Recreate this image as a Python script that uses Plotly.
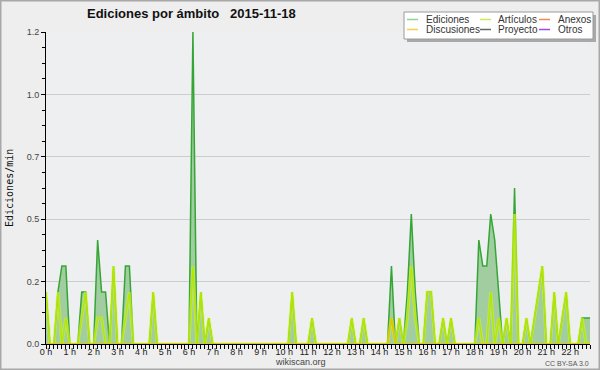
import plotly.graph_objects as go

# ---------------- data (edits/min, 10-minute bins starting 00:00) ----------------
hour_ticks = [0, 1, 2, 3, 4, 5, 6, 7, 8, 9, 10, 11, 12, 13, 14, 15, 16, 17, 18, 19, 20, 21, 22]
hour_labels = ["0 h", "1 h", "2 h", "3 h", "4 h", "5 h", "6 h", "7 h", "8 h", "9 h", "10 h", "11 h",
               "12 h", "13 h", "14 h", "15 h", "16 h", "17 h", "18 h", "19 h", "20 h", "21 h", "22 h"]

ediciones = [
    0.2, 0, 0, 0.2, 0.3, 0.3,      # 0 h
    0, 0, 0, 0.2, 0.2, 0,          # 1 h
    0, 0.4, 0.2, 0.2, 0, 0.3,      # 2 h
    0, 0, 0.3, 0.3, 0, 0,          # 3 h
    0, 0, 0, 0.2, 0, 0,            # 4 h
    0, 0, 0, 0, 0, 0,              # 5 h
    0, 1.2, 0, 0.2, 0, 0.1,        # 6 h
    0, 0, 0, 0, 0, 0,              # 7 h
    0, 0, 0, 0, 0, 0,              # 8 h
    0, 0, 0, 0, 0, 0,              # 9 h
    0, 0, 0.2, 0, 0, 0,            # 10 h
    0, 0.1, 0, 0, 0, 0,            # 11 h
    0, 0, 0, 0, 0, 0.1,            # 12 h
    0, 0, 0.1, 0, 0, 0,            # 13 h
    0, 0, 0, 0.3, 0, 0.1,          # 14 h
    0, 0.2, 0.5, 0.2, 0, 0,        # 15 h
    0.2, 0.2, 0, 0, 0.1, 0,        # 16 h
    0.1, 0, 0, 0, 0, 0,            # 17 h
    0, 0.4, 0.3, 0.3, 0.5, 0.4,    # 18 h
    0.2, 0, 0.1, 0, 0.6, 0,        # 19 h
    0, 0.1, 0, 0.1, 0.2, 0.3,      # 20 h
    0, 0, 0.2, 0, 0.1, 0.2,        # 21 h
    0, 0, 0, 0.1, 0.1, 0.1,        # 22 h
]

articulos = [
    0.2, 0, 0, 0.2, 0, 0.1,
    0, 0, 0, 0.1, 0.2, 0,
    0, 0.1, 0.1, 0, 0, 0.3,
    0, 0, 0.1, 0.2, 0, 0,
    0, 0, 0, 0.2, 0, 0,
    0, 0, 0, 0, 0, 0,
    0, 0.3, 0, 0.2, 0, 0.1,
    0, 0, 0, 0, 0, 0,
    0, 0, 0, 0, 0, 0,
    0, 0, 0, 0, 0, 0,
    0, 0, 0.2, 0, 0, 0,
    0, 0.1, 0, 0, 0, 0,
    0, 0, 0, 0, 0, 0.1,
    0, 0, 0.1, 0, 0, 0,
    0, 0, 0, 0.1, 0, 0.1,
    0, 0.1, 0.3, 0.1, 0, 0,
    0.2, 0.2, 0, 0, 0.1, 0,
    0.1, 0, 0, 0, 0, 0,
    0, 0.1, 0, 0, 0.2, 0,
    0.1, 0, 0.1, 0, 0.5, 0,
    0, 0.1, 0, 0.1, 0.2, 0.3,
    0, 0, 0.2, 0, 0.1, 0.2,
    0, 0, 0, 0.1, 0, 0,
]

discusiones = [0] * 87 + [0.1] + [0] * 50

times = [i / 6 for i in range(len(ediciones))]

legend_names = ["Ediciones", "Artículos", "Anexos", "Discusiones", "Proyecto", "Otros"]
legend_colors = ["#8ed68e", "#c9ec4f", "#f08a5a", "#f4cf4a", "#666666", "#9a4ce8"]

y_ticks = [0, 0.24, 0.48, 0.72, 0.96, 1.2]

# ---------------- geometry helpers (pixel -> paper) ----------------
W, H = 600, 370
L, R, T, B = 46, 10, 32, 26
PW, PH = W - L - R, H - T - B


def px(x):
    return (x - L) / PW


def py(y):
    return (H - B - y) / PH


FONT = "Liberation Sans, Arial, sans-serif"

fig = go.Figure()
fig.add_trace(go.Scatter(x=times, y=ediciones, mode="lines", name="Ediciones",
                         line=dict(color="#35a635", width=1.5), fill="tozeroy",
                         fillcolor="#a1cda1", showlegend=False))
fig.add_trace(go.Scatter(x=times, y=articulos, mode="lines", name="Artículos",
                         line=dict(color="rgba(210,248,50,0.55)", width=3.2),
                         showlegend=False, hoverinfo="skip"))
fig.add_trace(go.Scatter(x=times, y=articulos, mode="lines", name="Artículos",
                         line=dict(color="#b4e600", width=1.3), showlegend=False))
fig.add_trace(go.Scatter(x=times, y=discusiones, mode="lines", name="Discusiones",
                         line=dict(color="#e8c400", width=1.6), showlegend=False))

shapes = []
annotations = []

# outer frame
shapes.append(dict(type="rect", xref="paper", yref="paper", x0=px(0.5), x1=px(W - 0.5),
                   y0=py(0.5), y1=py(H - 0.5), line=dict(color="#a8a8a8", width=2),
                   fillcolor="rgba(0,0,0,0)", layer="above"))

# legend box with shadow
shapes.append(dict(type="rect", xref="paper", yref="paper", x0=px(407), x1=px(596),
                   y0=py(15), y1=py(42), line=dict(width=0), fillcolor="#a9a9a9", layer="above"))
shapes.append(dict(type="rect", xref="paper", yref="paper", x0=px(404), x1=px(593),
                   y0=py(12), y1=py(39), line=dict(color="#9a9a9a", width=1),
                   fillcolor="#ffffff", layer="above"))

col_line_x = [407, 480, 539]
col_text_x = [424, 496, 556]
row_y = [19.5, 29.5]
for k, (name, color) in enumerate(zip(legend_names, legend_colors)):
    r, c = divmod(k, 3)
    shapes.append(dict(type="line", xref="paper", yref="paper",
                       x0=px(col_line_x[c]), x1=px(col_line_x[c] + 11),
                       y0=py(row_y[r]), y1=py(row_y[r]),
                       line=dict(color=color, width=1.5), layer="above"))
    annotations.append(dict(text=name, xref="paper", yref="paper", x=px(col_text_x[c]),
                            y=py(row_y[r]), xanchor="left", yanchor="middle", showarrow=False,
                            font=dict(family=FONT, size=10, color="#333333")))

# title
annotations.append(dict(text="<b>Ediciones por ámbito\u00a0\u00a0\u00a02015-11-18</b>",
                        xref="paper", yref="paper", x=px(85), y=py(14), xanchor="left",
                        yanchor="middle", showarrow=False,
                        font=dict(family=FONT, size=13, color="#111111")))
# y axis title
annotations.append(dict(text="Ediciones/min", xref="paper", yref="paper", x=px(9), y=py(188),
                        xanchor="center", yanchor="middle", textangle=-90, showarrow=False,
                        font=dict(family="DejaVu Sans Mono, monospace", size=10, color="#111111")))
# x axis caption and licence
annotations.append(dict(text="wikiscan.org", xref="paper", yref="paper", x=px(300), y=py(362),
                        xanchor="center", yanchor="middle", showarrow=False, borderpad=0,
                        font=dict(family=FONT, size=9, color="#444444")))
annotations.append(dict(text="CC BY-SA 3.0", xref="paper", yref="paper", x=px(590), y=py(363),
                        xanchor="right", yanchor="middle", showarrow=False, borderpad=0,
                        font=dict(family=FONT, size=7, color="#555555")))

fig.update_layout(
    width=W, height=H,
    margin=dict(l=L, r=R, t=T, b=B, pad=0),
    paper_bgcolor="#eeeeee",
    plot_bgcolor="#eeeff1",
    showlegend=False,
    shapes=shapes,
    annotations=annotations,
    xaxis=dict(range=[0, times[-1]], tickvals=hour_ticks, ticktext=hour_labels,
               showgrid=False, zeroline=False, showline=True, linecolor="#000000", linewidth=1,
               ticks="outside", ticklen=4, tickcolor="#000000", tickwidth=1,
               ticklabelstandoff=-5,
               tickfont=dict(family=FONT, size=9, color="#222222"),
               minor=dict(dtick=1 / 6, tick0=0, ticks="outside", ticklen=4,
                          tickcolor="#000000", tickwidth=1, showgrid=False),
               fixedrange=True),
    yaxis=dict(range=[0, 1.2], tickvals=y_ticks, tickformat=".1f",
               showgrid=True, gridcolor="#cdcdcd", gridwidth=1, zeroline=False,
               showline=True, linecolor="#000000", linewidth=1,
               ticks="outside", ticklen=4, tickcolor="#000000", tickwidth=1,
               tickfont=dict(family=FONT, size=9, color="#444444"),
               minor=dict(dtick=0.06, tick0=0, ticks="outside", ticklen=3,
                          tickcolor="#000000", tickwidth=1, showgrid=False),
               fixedrange=True),
)

fig.write_html("out.html", config={"displayModeBar": False},
               post_script="document.body.style.margin='0';document.body.style.padding='0';"
                           "document.body.style.overflow='hidden';")
